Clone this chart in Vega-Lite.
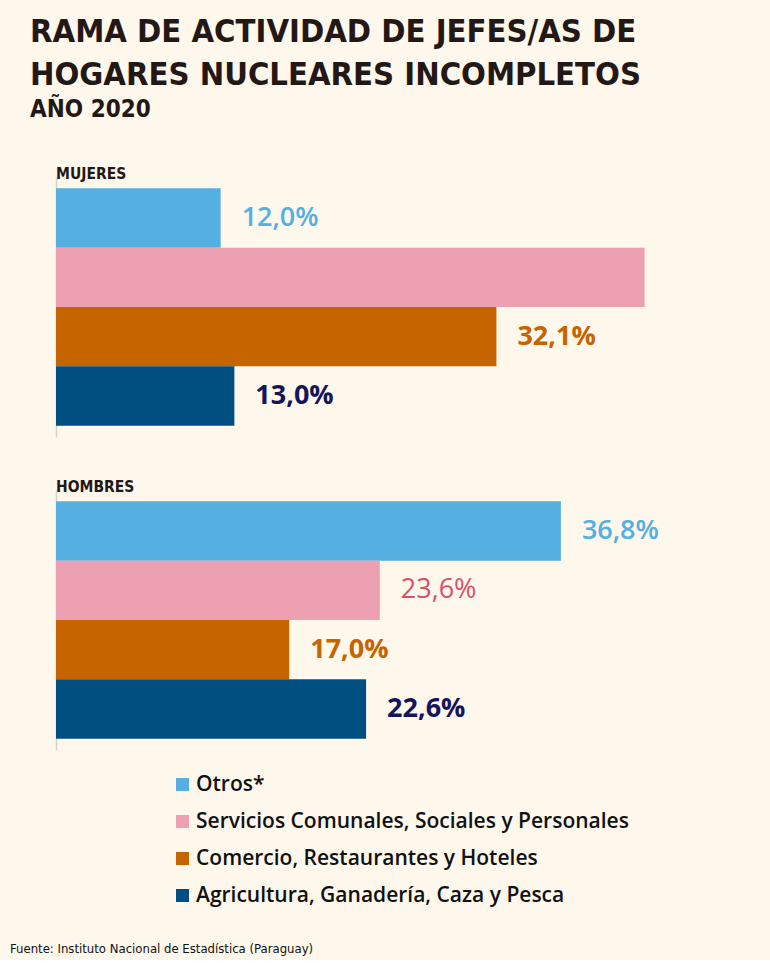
{
  "$schema": "https://vega.github.io/schema/vega-lite/v6.json",
  "background": "#fdf7ec",
  "padding": {"left": 10, "top": 16, "right": 28, "bottom": 4},
  "title": {
    "text": ["RAMA DE ACTIVIDAD DE JEFES/AS DE", "HOGARES NUCLEARES INCOMPLETOS"],
    "subtitle": "AÑO 2020",
    "anchor": "start",
    "frame": "group",
    "dx": -26,
    "font": "Liberation Sans Narrow, DejaVu Sans Condensed, sans-serif",
    "fontSize": 32.5,
    "fontWeight": "bold",
    "lineHeight": 43,
    "color": "#231815",
    "subtitleFont": "Liberation Sans Narrow, DejaVu Sans Condensed, sans-serif",
    "subtitleFontSize": 24,
    "subtitleFontWeight": "bold",
    "subtitleColor": "#231815",
    "subtitlePadding": 6,
    "offset": 45
  },
  "data": {
    "values": [
      {"group": "MUJERES", "category": "Otros*", "value": 12.0, "label": "12,0%"},
      {"group": "MUJERES", "category": "Servicios Comunales, Sociales y Personales", "value": 42.9, "label": ""},
      {"group": "MUJERES", "category": "Comercio, Restaurantes y Hoteles", "value": 32.1, "label": "32,1%"},
      {"group": "MUJERES", "category": "Agricultura, Ganadería, Caza y Pesca", "value": 13.0, "label": "13,0%"},
      {"group": "HOMBRES", "category": "Otros*", "value": 36.8, "label": "36,8%"},
      {"group": "HOMBRES", "category": "Servicios Comunales, Sociales y Personales", "value": 23.6, "label": "23,6%"},
      {"group": "HOMBRES", "category": "Comercio, Restaurantes y Hoteles", "value": 17.0, "label": "17,0%"},
      {"group": "HOMBRES", "category": "Agricultura, Ganadería, Caza y Pesca", "value": 22.6, "label": "22,6%"}
    ]
  },
  "vconcat": [
    {
      "title": {
        "text": "Fuente: Instituto Nacional de Estadística (Paraguay)",
        "orient": "bottom",
        "anchor": "start",
        "frame": "group",
        "dx": -46,
        "font": "Liberation Sans Narrow, DejaVu Sans Condensed, sans-serif",
        "fontSize": 13,
        "fontWeight": "normal",
        "color": "#111111",
        "offset": 37
      },
      "spacing": 42,
      "vconcat": [
        {
          "title": {"text": "MUJERES"},
          "width": 686,
          "height": 260,
          "transform": [{"filter": "datum.group === 'MUJERES'"}],
          "encoding": {
            "y": {
              "field": "category", "type": "nominal",
              "sort": ["Otros*", "Servicios Comunales, Sociales y Personales", "Comercio, Restaurantes y Hoteles", "Agricultura, Ganadería, Caza y Pesca"],
              "scale": {"paddingInner": 0, "paddingOuter": 0.19},
              "axis": {"labels": false, "ticks": false, "title": null, "domainColor": "#d8d4cc", "domainWidth": 1.5}
            },
            "x": {"field": "value", "type": "quantitative", "scale": {"domain": [0, 50]}, "axis": null}
          },
          "layer": [
            {
              "mark": {"type": "bar"},
              "encoding": {
                "color": {
                  "field": "category", "type": "nominal",
                  "scale": {
                    "domain": ["Otros*", "Servicios Comunales, Sociales y Personales", "Comercio, Restaurantes y Hoteles", "Agricultura, Ganadería, Caza y Pesca"],
                    "range": ["#55afe0", "#eda0b2", "#c66400", "#004f80"]
                  },
                  "legend": {"title": null, "orient": "none", "legendX": 116, "legendY": 597, "direction": "vertical"}
                }
              }
            },
            {
              "transform": [{"filter": "datum.label !== '' && datum.category === 'Otros*'"}],
              "mark": {"type": "text", "align": "left", "dx": 21, "font": "Open Sans", "fontSize": 27, "fontWeight": 600, "color": "#55afe0"},
              "encoding": {"text": {"field": "label"}}
            },
            {
              "transform": [{"filter": "datum.label !== '' && datum.category === 'Servicios Comunales, Sociales y Personales'"}],
              "mark": {"type": "text", "align": "left", "dx": 21, "font": "Open Sans", "fontSize": 27, "fontWeight": "normal", "color": "#d9506a"},
              "encoding": {"text": {"field": "label"}}
            },
            {
              "transform": [{"filter": "datum.label !== '' && (datum.category === 'Comercio, Restaurantes y Hoteles' || datum.category === 'Agricultura, Ganadería, Caza y Pesca')"}],
              "mark": {"type": "text", "align": "left", "dx": 21, "font": "Open Sans", "fontSize": 27, "fontWeight": "bold"},
              "encoding": {
                "text": {"field": "label"},
                "color": {"condition": {"test": "datum.category === 'Comercio, Restaurantes y Hoteles'", "value": "#c66400"}, "value": "#14155a"}
              }
            }
          ]
        },
        {
          "title": {"text": "HOMBRES"},
          "width": 686,
          "height": 260,
          "transform": [{"filter": "datum.group === 'HOMBRES'"}],
          "encoding": {
            "y": {
              "field": "category", "type": "nominal",
              "sort": ["Otros*", "Servicios Comunales, Sociales y Personales", "Comercio, Restaurantes y Hoteles", "Agricultura, Ganadería, Caza y Pesca"],
              "scale": {"paddingInner": 0, "paddingOuter": 0.19},
              "axis": {"labels": false, "ticks": false, "title": null, "domainColor": "#d8d4cc", "domainWidth": 1.5}
            },
            "x": {"field": "value", "type": "quantitative", "scale": {"domain": [0, 50]}, "axis": null}
          },
          "layer": [
            {
              "mark": {"type": "bar"},
              "encoding": {
                "color": {
                  "field": "category", "type": "nominal",
                  "scale": {
                    "domain": ["Otros*", "Servicios Comunales, Sociales y Personales", "Comercio, Restaurantes y Hoteles", "Agricultura, Ganadería, Caza y Pesca"],
                    "range": ["#55afe0", "#eda0b2", "#c66400", "#004f80"]
                  },
                  "legend": {"title": null, "orient": "none", "legendX": 116, "legendY": 597, "direction": "vertical"}
                }
              }
            },
            {
              "transform": [{"filter": "datum.label !== '' && datum.category === 'Otros*'"}],
              "mark": {"type": "text", "align": "left", "dx": 21, "font": "Open Sans", "fontSize": 27, "fontWeight": 600, "color": "#55afe0"},
              "encoding": {"text": {"field": "label"}}
            },
            {
              "transform": [{"filter": "datum.label !== '' && datum.category === 'Servicios Comunales, Sociales y Personales'"}],
              "mark": {"type": "text", "align": "left", "dx": 21, "font": "Open Sans", "fontSize": 27, "fontWeight": "normal", "color": "#d9506a"},
              "encoding": {"text": {"field": "label"}}
            },
            {
              "transform": [{"filter": "datum.label !== '' && (datum.category === 'Comercio, Restaurantes y Hoteles' || datum.category === 'Agricultura, Ganadería, Caza y Pesca')"}],
              "mark": {"type": "text", "align": "left", "dx": 21, "font": "Open Sans", "fontSize": 27, "fontWeight": "bold"},
              "encoding": {
                "text": {"field": "label"},
                "color": {"condition": {"test": "datum.category === 'Comercio, Restaurantes y Hoteles'", "value": "#c66400"}, "value": "#14155a"}
              }
            }
          ]
        }
      ],
      "resolve": {"scale": {"color": "shared", "y": "independent", "x": "shared"}, "legend": {"color": "shared"}}
    }
  ],
  "resolve": {"scale": {"color": "independent"}, "legend": {"color": "independent"}},
  "config": {
    "view": {"stroke": null},
    "title": {"anchor": "start", "font": "Liberation Sans Narrow, DejaVu Sans Condensed, sans-serif", "fontSize": 15.5, "fontWeight": "bold", "color": "#231815", "offset": -5},
    "legend": {
      "symbolType": "square",
      "symbolSize": 169,
      "symbolStrokeWidth": 0,
      "labelFont": "Open Sans",
      "labelFontSize": 21,
      "labelFontWeight": 600,
      "labelColor": "#111111",
      "labelOffset": 3,
      "rowPadding": 15,
      "labelLimit": 700,
      "padding": 0
    }
  }
}
